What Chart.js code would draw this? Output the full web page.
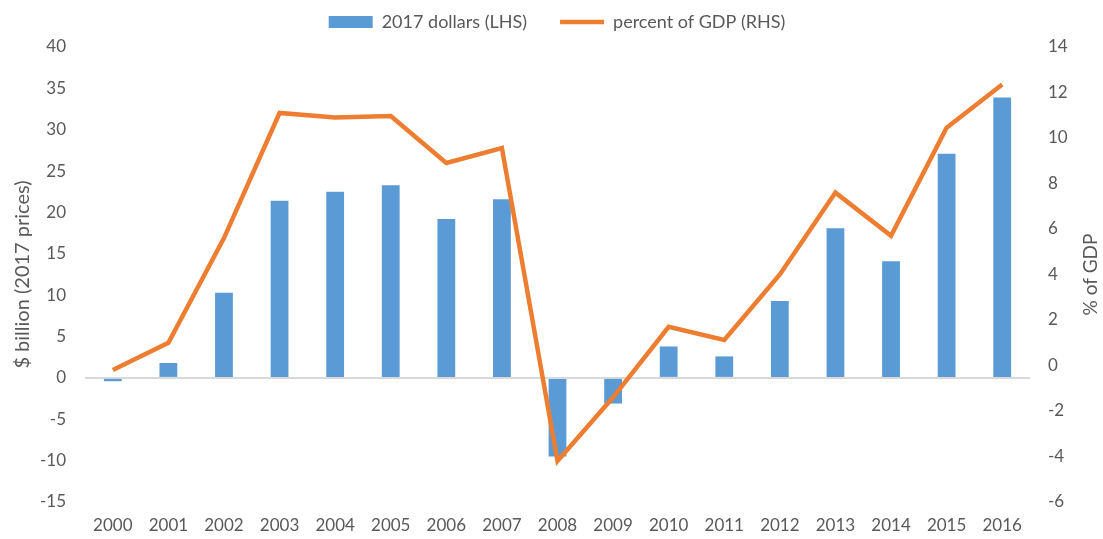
<!DOCTYPE html>
<html>
<head>
<meta charset="utf-8">
<script src="https://cdn.jsdelivr.net/npm/chart.js@4"></script>
<style>
    html, body { margin: 0; padding: 0; background: #fff; }
    #wrap { width: 1103px; height: 539px; }
</style>
</head>
<body>
<div id="wrap"><canvas id="chart"></canvas></div>
<script>
const years = ['2000', '2001', '2002', '2003', '2004', '2005', '2006', '2007', '2008',
    '2009', '2010', '2011', '2012', '2013', '2014', '2015', '2016'];
const dollars2017 = [-0.4, 1.8, 10.3, 21.4, 22.5, 23.3, 19.2, 21.6, -9.5, -3.1, 3.8, 2.6, 9.3, 18.1, 14.1, 27.1, 33.9];
const pctOfGdp = [-0.2, 1.0, 5.6, 11.1, 10.9, 10.97, 8.9, 9.56, -4.2, -1.4, 1.7, 1.12, 4.0, 7.6, 5.7, 10.45, 12.35];
const rightTitle = '% of GDP';

const fontFamily = 'Lato, "Open Sans", sans-serif';
const textColor = '#595959';

// legend sits higher than chart.js would put it, so fix its height by hand
const legendHeight = {
    id: 'legendHeight',
    beforeInit(chart) {
        const legend = chart.legend;
        if (!legend) return;
        const origFit = legend.fit;
        legend.fit = function () {
            origFit.call(this);
            this.height = 67;
        };
    }
};

// right axis title reads bottom-to-top like the left one
const rightAxisTitle = {
    id: 'rightAxisTitle',
    afterDraw(chart) {
        const { ctx, chartArea } = chart;
        ctx.save();
        ctx.translate(1091, (chartArea.top + chartArea.bottom) / 2);
        ctx.rotate(-Math.PI / 2);
        ctx.fillStyle = textColor;
        ctx.font = '19px ' + fontFamily;
        ctx.textAlign = 'center';
        ctx.textBaseline = 'middle';
        ctx.fillText(rightTitle, 0, 0);
        ctx.restore();
    }
};

const ctx = document.getElementById('chart').getContext('2d');
new Chart(ctx, {
    type: 'bar',
    data: {
        labels: years,
        datasets: [
            {
                type: 'line',
                label: 'percent of GDP (RHS)',
                data: pctOfGdp,
                yAxisID: 'yRight',
                borderColor: '#ED7D31',
                backgroundColor: '#ED7D31',
                borderWidth: 4.5,
                pointRadius: 0,
                pointStyle: 'line',
                tension: 0,
                order: 0
            },
            {
                label: '2017 dollars (LHS)',
                data: dollars2017,
                yAxisID: 'yLeft',
                backgroundColor: '#5B9BD5',
                borderWidth: 0,
                pointStyle: 'rect',
                barPercentage: 0.32,
                categoryPercentage: 1,
                order: 1
            }
        ]
    },
    plugins: [legendHeight, rightAxisTitle],
    options: {
        responsive: true,
        maintainAspectRatio: false,
        animation: false,
        layout: { padding: { top: -20, bottom: 3, left: 11, right: 0 } },
        plugins: {
            legend: {
                position: 'top',
                reverse: true,
                labels: {
                    usePointStyle: true,
                    pointStyleWidth: 44,
                    boxHeight: 12,
                    padding: 33,
                    color: textColor,
                    font: { family: fontFamily, size: 18 }
                }
            },
            tooltip: { enabled: false }
        },
        scales: {
            x: {
                grid: { display: false, drawTicks: false },
                border: { display: false },
                ticks: {
                    color: textColor,
                    font: { family: fontFamily, size: 17 },
                    maxRotation: 0,
                    padding: 13
                },
                afterFit: axis => { axis.height = 34; }
            },
            yLeft: {
                position: 'left',
                min: -15,
                max: 40,
                ticks: {
                    stepSize: 5,
                    color: textColor,
                    font: { family: fontFamily, size: 17 },
                    padding: 19
                },
                grid: {
                    drawTicks: false,
                    color: c => (c.tick && c.tick.value === 0 ? '#d9d9d9' : 'rgba(0,0,0,0)'),
                    lineWidth: 2
                },
                border: { display: false },
                title: {
                    display: true,
                    text: '$ billion (2017 prices)',
                    color: textColor,
                    font: { family: fontFamily, size: 20 },
                    padding: 0
                },
                afterFit: axis => { axis.width = 74; }
            },
            yRight: {
                position: 'right',
                min: -6,
                max: 14,
                ticks: {
                    stepSize: 2,
                    color: textColor,
                    font: { family: fontFamily, size: 17 },
                    padding: 18
                },
                grid: { display: false, drawTicks: false },
                border: { display: false },
                afterFit: axis => { axis.width = 73; }
            }
        }
    }
});
</script>
</body>
</html>
